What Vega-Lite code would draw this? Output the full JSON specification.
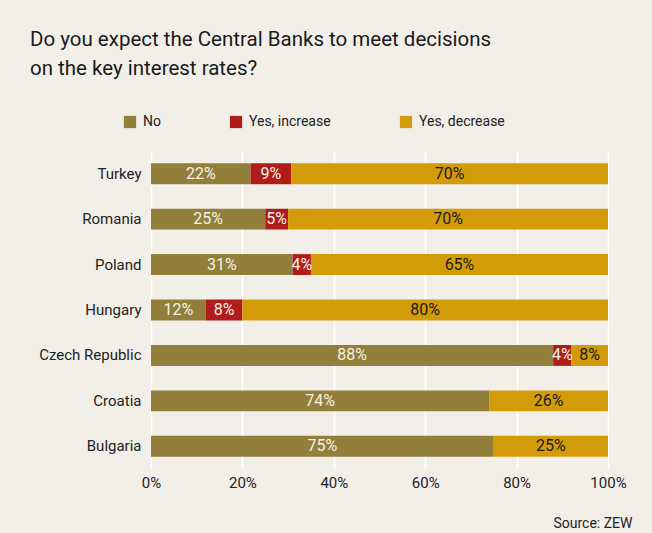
{
  "$schema": "https://vega.github.io/schema/vega-lite/v6.json",
  "width": 457,
  "height": 318,
  "autosize": {"type": "none"},
  "padding": {"left": 151, "top": 151, "right": 44, "bottom": 64},
  "background": "#f2efe9",
  "config": {
    "font": "Roboto, sans-serif",
    "view": {"stroke": null}
  },
  "title": {
    "text": ["Do you expect the Central Banks to meet decisions", "on the key interest rates?"],
    "anchor": "start",
    "frame": "group",
    "dx": -121,
    "offset": 36,
    "fontSize": 20.5,
    "fontWeight": "normal",
    "color": "#1a1a1a",
    "lineHeight": 29
  },
  "data": {
    "values": [
      {"country": "Turkey", "answer": "No", "share": 22},
      {"country": "Turkey", "answer": "Yes, increase", "share": 9},
      {"country": "Turkey", "answer": "Yes, decrease", "share": 70},
      {"country": "Romania", "answer": "No", "share": 25},
      {"country": "Romania", "answer": "Yes, increase", "share": 5},
      {"country": "Romania", "answer": "Yes, decrease", "share": 70},
      {"country": "Poland", "answer": "No", "share": 31},
      {"country": "Poland", "answer": "Yes, increase", "share": 4},
      {"country": "Poland", "answer": "Yes, decrease", "share": 65},
      {"country": "Hungary", "answer": "No", "share": 12},
      {"country": "Hungary", "answer": "Yes, increase", "share": 8},
      {"country": "Hungary", "answer": "Yes, decrease", "share": 80},
      {"country": "Czech Republic", "answer": "No", "share": 88},
      {"country": "Czech Republic", "answer": "Yes, increase", "share": 4},
      {"country": "Czech Republic", "answer": "Yes, decrease", "share": 8},
      {"country": "Croatia", "answer": "No", "share": 74},
      {"country": "Croatia", "answer": "Yes, decrease", "share": 26},
      {"country": "Bulgaria", "answer": "No", "share": 75},
      {"country": "Bulgaria", "answer": "Yes, decrease", "share": 25}
    ]
  },
  "transform": [
    {"calculate": "indexof(['No','Yes, increase','Yes, decrease'], datum.answer)", "as": "idx"},
    {"stack": "share", "groupby": ["country"], "sort": [{"field": "idx", "order": "ascending"}], "offset": "normalize", "as": ["x0", "x1"]},
    {"calculate": "(datum.x0 + datum.x1) / 2", "as": "xm"},
    {"calculate": "datum.share + '%'", "as": "label"}
  ],
  "encoding": {
    "y": {
      "field": "country",
      "type": "nominal",
      "sort": ["Turkey", "Romania", "Poland", "Hungary", "Czech Republic", "Croatia", "Bulgaria"],
      "scale": {"paddingInner": 0.54, "paddingOuter": 0.27},
      "axis": {
        "title": null,
        "domain": false,
        "ticks": false,
        "labelPadding": 10,
        "labelFontSize": 15,
        "labelColor": "#222222"
      }
    }
  },
  "layer": [
    {
      "mark": {"type": "bar"},
      "encoding": {
        "x": {
          "field": "x0",
          "type": "quantitative",
          "scale": {"domain": [0, 1], "nice": false},
          "axis": {
            "values": [0, 0.2, 0.4, 0.6, 0.8, 1],
            "format": ".0%",
            "grid": true,
            "gridColor": "#ffffff",
            "gridWidth": 1.5,
            "domain": false,
            "ticks": false,
            "labelFlush": false,
            "labelBound": false,
            "labelPadding": 6,
            "labelFontSize": 15,
            "labelColor": "#222222",
            "title": "Source: ZEW",
            "titleFontSize": 14,
            "titleFontWeight": "normal",
            "titleColor": "#222222",
            "titleAnchor": "end",
            "titleAlign": "right",
            "titleBaseline": "alphabetic",
            "titleX": 481,
            "titleY": 58
          }
        },
        "x2": {"field": "x1"},
        "color": {
          "field": "answer",
          "type": "nominal",
          "scale": {
            "domain": ["No", "Yes, increase", "Yes, decrease"],
            "range": ["#917f3b", "#b01c1c", "#d49b09"]
          },
          "legend": {
            "orient": "none",
            "legendX": -28,
            "legendY": -36,
            "direction": "horizontal",
            "title": null,
            "symbolType": "square",
            "symbolSize": 150,
            "symbolStrokeWidth": 0,
            "symbolOpacity": 1,
            "labelFontSize": 14,
            "labelColor": "#222222",
            "labelOffset": 6,
            "columnPadding": 68
          }
        }
      }
    },
    {
      "mark": {"type": "text", "fontSize": 16, "baseline": "middle", "align": "center"},
      "encoding": {
        "x": {"field": "xm", "type": "quantitative"},
        "text": {"field": "label", "type": "nominal"},
        "color": {
          "condition": {"test": "datum.answer === 'Yes, decrease'", "value": "#1a1a1a"},
          "value": "#f6f1e4"
        }
      }
    }
  ]
}
